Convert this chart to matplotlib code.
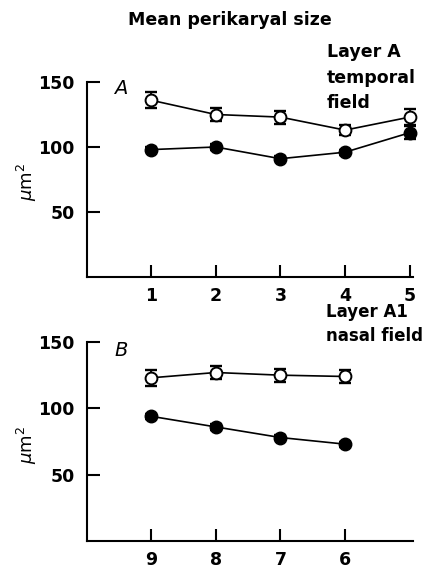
import matplotlib
matplotlib.use('Agg')
import matplotlib.pyplot as plt

plt.rcParams['font.family'] = ['DejaVu Sans']
plt.rcParams['mathtext.fontset'] = 'dejavusans'

# panel A: layer A, temporal field
pos_A = [1, 2, 3, 4, 5]
labels_A = ['1', '2', '3', '4', '5']
open_A = [136, 125, 123, 113, 123]
open_A_err = [6, 5, 5, 4, 6]
filled_A = [98, 100, 91, 96, 111]
filled_A_err = [2, 2, 2, 2, 5]

# panel B: layer A1, nasal field
pos_B = [1, 2, 3, 4]
labels_B = ['9', '8', '7', '6']
open_B = [123, 127, 125, 124]
open_B_err = [6, 5, 5, 5]
filled_B = [94, 86, 78, 73]
filled_B_err = [2, 2, 2, 2]

W, H = 426, 568
fig = plt.figure(figsize=(W / 100, H / 100), dpi=100)


def panel(ax, pos, labels, op, op_err, fi, fi_err):
    ax.errorbar(pos, op, yerr=op_err, fmt='none', ecolor='black',
                elinewidth=1.3, capsize=4.5, capthick=1.7, zorder=2)
    ax.errorbar(pos, fi, yerr=fi_err, fmt='none', ecolor='black',
                elinewidth=1.3, capsize=4.5, capthick=1.7, zorder=2)
    ax.plot(pos, op, '-o', color='black', lw=1.2, ms=8.5,
            mfc='white', mec='black', mew=1.4, zorder=3)
    ax.plot(pos, fi, '-o', color='black', lw=1.2, ms=9,
            mfc='black', mec='black', zorder=3)
    ax.set_xlim(0.01, 5.05)
    ax.set_ylim(0, 150)
    ax.set_xticks(pos)
    ax.set_xticklabels(labels)
    ax.set_yticks([50, 100, 150])
    for s in ['top', 'right']:
        ax.spines[s].set_visible(False)
    for s in ['left', 'bottom']:
        ax.spines[s].set_linewidth(1.5)
    ax.tick_params(axis='both', direction='in', length=9, width=1.5,
                   labelsize=12.5)
    ax.tick_params(axis='y', pad=9)
    ax.tick_params(axis='x', pad=7)
    for t in ax.get_xticklabels() + ax.get_yticklabels():
        t.set_fontweight('bold')
    for ln in ax.lines:
        ln.set_clip_on(False)
    for c in ax.collections:
        c.set_clip_on(False)


ax1 = fig.add_axes([87 / W, 1 - 277 / H, 326 / W, 195 / H])
panel(ax1, pos_A, labels_A, open_A, open_A_err, filled_A, filled_A_err)
ax2 = fig.add_axes([87 / W, 1 - 541 / H, 326 / W, 199 / H])
panel(ax2, pos_B, labels_B, open_B, open_B_err, filled_B, filled_B_err)

fig.text(230 / W, 1 - 20 / H, 'Mean perikaryal size', ha='center', va='center',
         fontsize=12.5, fontweight='bold')

fig.text(121 / W, 1 - 88 / H, 'A', ha='center', va='center', fontsize=14,
         style='italic')
fig.text(121 / W, 1 - 350 / H, 'B', ha='center', va='center', fontsize=14,
         style='italic')

layer_top = ['Layer A', 'temporal', 'field']
for txt, yc in zip(layer_top, [52, 78, 103]):
    fig.text(327 / W, 1 - yc / H, txt, ha='left', va='center',
             fontsize=12.5, fontweight='bold')
layer_bot = ['Layer A1', 'nasal field']
for txt, yc in zip(layer_bot, [312, 336]):
    fig.text(326 / W, 1 - yc / H, txt, ha='left', va='center',
             fontsize=12, fontweight='bold')

fig.text(27 / W, 1 - 182 / H, r'$\mu$m$^2$', ha='center', va='center',
         rotation=90, fontsize=13)
fig.text(27 / W, 1 - 445 / H, r'$\mu$m$^2$', ha='center', va='center',
         rotation=90, fontsize=13)

fig.savefig('out.png', dpi=100)
